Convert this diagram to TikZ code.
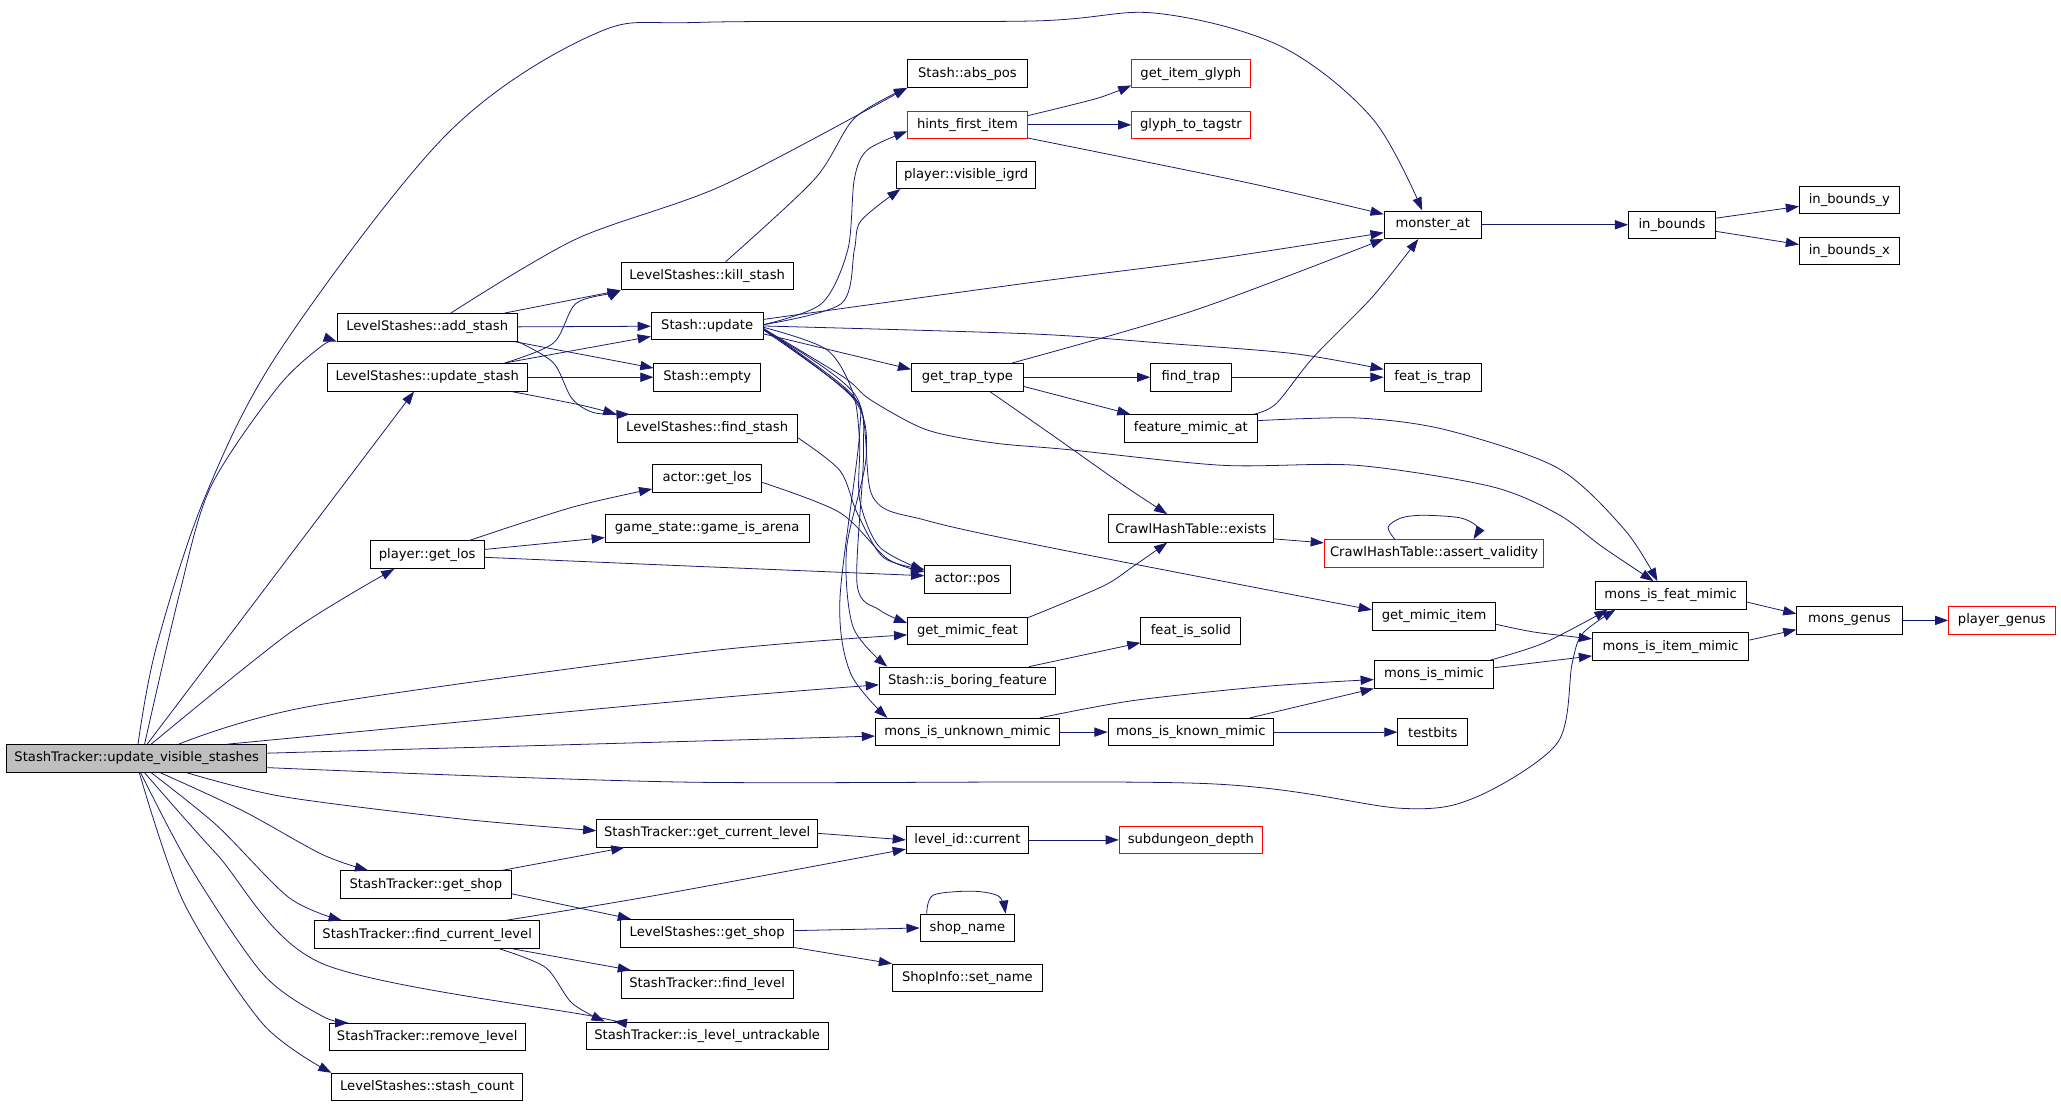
\documentclass[tikz,border=0pt]{standalone}
\usepackage{fontspec}
\setmainfont{DejaVu Sans}
\usepackage{tikz}
\usetikzlibrary{arrows.meta}
\definecolor{edgeblue}{RGB}{25,25,112}
\definecolor{rootgray}{RGB}{191,191,191}
\tikzset{>={Triangle[length=10pt,width=7pt]}}
\tikzset{fn/.style={draw=black,line width=0.7pt,minimum height=21pt,inner xsep=2pt,inner ysep=0pt,font=\fontsize{10}{12}\selectfont},
  fnred/.style={fn,draw=red},
  fnroot/.style={fn,fill=rootgray},
  call/.style={->,draw=edgeblue,line width=0.6pt}}

\begin{document}
\begin{tikzpicture}[x=1pt,y=-1pt]
      \useasboundingbox (0,0) rectangle (1568,841);
      % callers on the left
      \node[fnroot,minimum width=198pt] (usv) at (104,577) {StashTracker::update\_visible\_stashes};
      \node[fn,minimum width=137pt] (addst) at (325,249) {LevelStashes::add\_stash};
      \node[fn,minimum width=152pt] (updst) at (325,287) {LevelStashes::update\_stash};
      \node[fn,minimum width=87pt] (plos) at (325,422) {player::get\_los};
      \node[fn,minimum width=130pt] (gshop) at (324,673) {StashTracker::get\_shop};
      \node[fn,minimum width=171pt] (fcl) at (325,711) {StashTracker::find\_current\_level};
      \node[fn,minimum width=149pt] (rml) at (325,789) {StashTracker::remove\_level};
      \node[fn,minimum width=145pt] (scnt) at (325,827) {LevelStashes::stash\_count};
      % middle columns
      \node[fn,minimum width=131pt] (kill) at (538,210) {LevelStashes::kill\_stash};
      \node[fn,minimum width=85pt] (supd) at (538,248) {Stash::update};
      \node[fn,minimum width=81pt] (sempty) at (538,287) {Stash::empty};
      \node[fn,minimum width=137pt] (fstash) at (538,326) {LevelStashes::find\_stash};
      \node[fn,minimum width=83pt] (alos) at (538,364) {actor::get\_los};
      \node[fn,minimum width=155pt] (arena) at (538,402) {game\_state::game\_is\_arena};
      \node[fn,minimum width=168pt] (gcl) at (538,634) {StashTracker::get\_current\_level};
      \node[fn,minimum width=132pt] (lgshop) at (538,710) {LevelStashes::get\_shop};
      \node[fn,minimum width=131pt] (flevel) at (538,749) {StashTracker::find\_level};
      \node[fn,minimum width=184pt] (untr) at (538,788) {StashTracker::is\_level\_untrackable};
      \node[fn,minimum width=91pt] (abspos) at (736,56) {Stash::abs\_pos};
      \node[fnred,minimum width=91pt] (hfi) at (736,95) {hints\_first\_item};
      \node[fn,minimum width=106pt] (vigrd) at (735,133) {player::visible\_igrd};
      \node[fn,minimum width=85pt] (gtt) at (736,287) {get\_trap\_type};
      \node[fn,minimum width=65pt] (apos) at (736,441) {actor::pos};
      \node[fn,minimum width=91pt] (gmf) at (736,480) {get\_mimic\_feat};
      \node[fn,minimum width=134pt] (bore) at (736,518) {Stash::is\_boring\_feature};
      \node[fn,minimum width=140pt] (unk) at (736,557) {mons\_is\_unknown\_mimic};
      \node[fn,minimum width=93pt] (lcur) at (736,639) {level\_id::current};
      \node[fn,minimum width=72pt] (shopn) at (736,706) {shop\_name};
      \node[fn,minimum width=114pt] (setn) at (736,744) {ShopInfo::set\_name};
      \node[fnred,minimum width=90pt] (glyph) at (906,56) {get\_item\_glyph};
      \node[fnred,minimum width=90pt] (tagstr) at (906,95) {glyph\_to\_tagstr};
      \node[fn,minimum width=61pt] (ftrap) at (906,287) {find\_trap};
      \node[fn,minimum width=101pt] (fma) at (906,326) {feature\_mimic\_at};
      \node[fn,minimum width=126pt] (exists) at (906,402) {CrawlHashTable::exists};
      \node[fn,minimum width=76pt] (solid) at (906,480) {feat\_is\_solid};
      \node[fn,minimum width=126pt] (known) at (906,557) {mons\_is\_known\_mimic};
      \node[fnred,minimum width=109pt] (subd) at (906,639) {subdungeon\_depth};
      % right columns
      \node[fnred,minimum width=167pt] (assertv) at (1091,421) {CrawlHashTable::assert\_validity};
      \node[fn,minimum width=74pt] (monat) at (1090,171) {monster\_at};
      \node[fn,minimum width=74pt] (istrap) at (1090,287) {feat\_is\_trap};
      \node[fn,minimum width=94pt] (gmi) at (1091,469) {get\_mimic\_item};
      \node[fn,minimum width=91pt] (mimic) at (1091,513) {mons\_is\_mimic};
      \node[fn,minimum width=53pt] (testb) at (1090,557) {testbits};
      \node[fn,minimum width=66pt] (inb) at (1272,171) {in\_bounds};
      \node[fn,minimum width=115pt] (featm) at (1271,453) {mons\_is\_feat\_mimic};
      \node[fn,minimum width=119pt] (itemm) at (1271,492) {mons\_is\_item\_mimic};
      \node[fn,minimum width=76pt] (iby) at (1407,152) {in\_bounds\_y};
      \node[fn,minimum width=76pt] (ibx) at (1407,191) {in\_bounds\_x};
      \node[fn,minimum width=80pt] (genus) at (1407,472) {mons\_genus};
      \node[fnred,minimum width=81pt] (pgenus) at (1523,472) {player\_genus};

      % calls of the root
      \draw[call] plot[smooth,tension=0.55] coordinates {([xshift=1pt]usv.north) (119,492) (156,378) (214,265) (340,102) (452,26) (533,17) (784,16) (879,10) (974,35) (1044,90) ([xshift=-8pt]monat.north)};
      \draw[call] plot[smooth] coordinates {([xshift=6pt]usv.north) (136,454) (160,371) (211,295) (245,263) (addst.south west)};
      \draw[call] ([xshift=8pt]usv.north) -- ([xshift=-10pt]updst.south);
      \draw[call] plot[smooth] coordinates {([xshift=11pt]usv.north) (221,481) ([xshift=-25pt]plos.south)};
      \draw[call] plot[smooth] coordinates {([xshift=32pt]usv.north) (238,537) (533,496) ([yshift=-3pt]gmf.west)};
      \draw[call] plot[smooth] coordinates {([xshift=69pt]usv.north) (533,532) ([yshift=-3pt]bore.west)};
      \draw[call] ([yshift=4pt]usv.east) -- ([yshift=-3pt]unk.west);
      \draw[call] plot[smooth,tension=0.5] coordinates {([yshift=-7pt]usv.east) (520,595) (914,596) (1067,615) (1124,606) (1185,565) (1196,505) (1204,482) ([xshift=-42pt]featm.south)};
      \draw[call] plot[smooth] coordinates {([xshift=38pt]usv.south) (215,606) (350,623) ([yshift=2pt]gcl.west)};
      \draw[call] plot[smooth] coordinates {([xshift=18pt]usv.south) (185,617) (245,650) ([xshift=-44pt]gshop.north)};
      \draw[call] plot[smooth] coordinates {([xshift=11pt]usv.south) (165,628) (220,683) ([xshift=-65pt]fcl.north)};
      \draw[call] plot[smooth] coordinates {([xshift=6pt]usv.south) (165,650) (245,733) (450,773) ([xshift=-71pt]untr.north)};
      \draw[call] plot[smooth] coordinates {([xshift=3pt]usv.south) (145,660) (200,741) (245,773) ([xshift=-60pt]rml.north)};
      \draw[call] plot[smooth] coordinates {([xshift=2pt]usv.south) (140,687) (200,779) (scnt.north west)};

      % LevelStashes
      \draw[call] plot[smooth] coordinates {([xshift=18pt]addst.north) (438,182) (550,141) (abspos.south west)};
      \draw[call] plot[smooth] coordinates {([xshift=14pt]kill.north) (620,136) (650,90) (abspos.south west)};
      \draw[call] ([xshift=59pt]addst.north) -- (kill.south west);
      \draw[call] (addst) -- (supd);
      \draw[call] ([xshift=66pt]addst.south) -- ([yshift=7pt]sempty.west);
      \draw[call] plot[smooth] coordinates {([xshift=69pt]addst.south) (421,276) (435,303) (452,314) ([xshift=-59pt]fstash.north)};
      \draw[call] plot[smooth] coordinates {([xshift=59pt]updst.north) (421,261) (438,231) (466,223) (kill.south west)};
      \draw[call] ([xshift=59pt]updst.north) -- ([yshift=-8pt]supd.west);
      \draw[call] (updst) -- (sempty);
      \draw[call] plot[smooth] coordinates {([xshift=64pt]updst.south) (441,308) ([xshift=-69pt]fstash.north)};

      % player::get_los
      \draw[call] plot[smooth] coordinates {([xshift=32pt]plos.north) (435,386) ([yshift=-8pt]alos.west)};
      \draw[call] ([yshift=4pt]plos.east) -- ([yshift=-7pt]arena.west);
      \draw[call] plot[smooth] coordinates {([yshift=-2pt]plos.east) (533,431) ([yshift=3pt]apos.west)};
      \draw[call] plot[smooth] coordinates {([yshift=-3pt]alos.east) (639,390) (675,425) ([yshift=6pt]apos.west)};
      \draw[call] plot[smooth] coordinates {([yshift=-7pt]fstash.east) (639,358) (652,390) (672,424) ([yshift=8pt]apos.west)};

      % Stash::update
      \draw[call] plot[smooth] coordinates {([yshift=-1pt]supd.east) (629,266) (649,299) (654,337) (654,380) (669,416) ([yshift=7pt]apos.west)};
      \draw[call] plot[smooth] coordinates {([yshift=-2pt]supd.east) (649,301) (657,342) (652,444) (669,464) ([yshift=6pt]gmf.west)};
      \draw[call] plot[smooth] coordinates {([yshift=-2pt]supd.east) (649,303) (659,347) (644,418) (649,477) ([xshift=-61pt]bore.north)};
      \draw[call] plot[smooth] coordinates {([yshift=-3pt]supd.east) (647,300) (654,329) (639,456) (647,512) ([xshift=-61pt]unk.north)};
      \draw[call] plot[smooth] coordinates {([yshift=-3pt]supd.east) (651,301) (664,378) (705,396) (806,418) ([yshift=5pt]gmi.west)};
      \draw[call] plot[smooth] coordinates {([yshift=-2pt]supd.east) (642,287) (662,304) (705,327) (756,337) (812,342) (930,354) (1032,354) (1134,370) (1185,391) (1219,416) ([xshift=-13pt]featm.north)};
      \draw[call] plot[smooth] coordinates {([yshift=5pt]supd.east) (784,215) (924,197) ([yshift=-6pt]monat.west)};
      \draw[call] plot[smooth] coordinates {(supd.east) (784,254) (884,261) (984,269) ([yshift=6pt]istrap.west)};
      \draw[call] plot[smooth] coordinates {([yshift=1pt]supd.east) (625,231) (645,190) (650,136) (660,114) ([yshift=-5pt]hfi.west)};
      \draw[call] plot[smooth] coordinates {([yshift=1pt]supd.east) (640,231) (650,190) (655,168) ([xshift=-50pt]vigrd.south)};
      \draw[call] ([yshift=-6pt]supd.east) -- ([yshift=6pt]gtt.west);

      % get_trap_type and friends
      \draw[call] (gtt) -- (ftrap);
      \draw[call] ([yshift=-7pt]gtt.east) -- ([xshift=-46pt]fma.north);
      \draw[call] plot[smooth] coordinates {([xshift=17pt]gtt.south) (802,332) (853,368) ([xshift=-18pt]exists.north)};
      \draw[call] plot[smooth] coordinates {([xshift=34pt]gtt.north) (909,236) (monat.south west)};
      \draw[call] (ftrap) -- (istrap);
      \draw[call] plot[smooth] coordinates {([xshift=48pt]fma.north) (971,307) (999,272) (1044,226) ([xshift=-11pt]monat.south)};
      \draw[call] plot[smooth] coordinates {([yshift=6pt]fma.east) (1033,318) (1100,327) (1185,356) (1236,403) ([xshift=-10pt]featm.north)};
      \draw[call] plot[smooth] coordinates {([yshift=7pt]hfi.east) (834,75) ([yshift=-9pt]glyph.west)};
      \draw[call] (hfi) -- (tagstr);
      \draw[call] plot[smooth] coordinates {([yshift=-10pt]hfi.east) (949,139) ([yshift=8pt]monat.west)};
      \draw[call] plot[smooth] coordinates {([yshift=10pt]gmf.east) (839,446) (862,431) ([xshift=-18pt]exists.south)};
      \draw[call] ([yshift=-8pt]exists.east) -- ([yshift=8pt]assertv.west);
      \draw[call] plot[smooth] coordinates {([xshift=-30pt]assertv.north) (1056,401) (1066,394) (1083,392) (1111,394) (1124,401) ([xshift=30pt]assertv.north)};
      \draw[call] ([xshift=47pt]bore.north) -- ([yshift=-9pt]solid.west);

      % mimic checks
      \draw[call] plot[smooth] coordinates {([xshift=55pt]unk.north) (862,533) (965,522) ([yshift=-4pt]mimic.west)};
      \draw[call] (unk) -- (known);
      \draw[call] plot[smooth] coordinates {([xshift=45pt]known.north) (998,535) (mimic.south west)};
      \draw[call] (known) -- (testb);
      \draw[call] plot[smooth] coordinates {([yshift=-6pt]gmi.east) (1168,481) ([yshift=6pt]itemm.west)};
      \draw[call] plot[smooth] coordinates {([xshift=43pt]mimic.north) (1175,489) ([xshift=-48pt]featm.south)};
      \draw[call] ([yshift=5pt]mimic.east) -- ([yshift=-7pt]itemm.west);
      \draw[call] ([yshift=-5pt]featm.east) -- ([yshift=5pt]genus.west);
      \draw[call] ([yshift=5pt]itemm.east) -- ([yshift=-7pt]genus.west);
      \draw[call] (genus) -- (pgenus);
      \draw[call] (monat) -- (inb);
      \draw[call] ([yshift=5pt]inb.east) -- ([yshift=-5pt]iby.west);
      \draw[call] ([yshift=-5pt]inb.east) -- ([yshift=5pt]ibx.west);

      % levels and shops
      \draw[call] (gcl.east) -- (lcur.west);
      \draw[call] plot[smooth] coordinates {([xshift=60pt]fcl.north) (500,681) ([yshift=-7pt]lcur.west)};
      \draw[call] ([xshift=58pt]gshop.north) -- ([xshift=-63pt]gcl.south);
      \draw[call] ([yshift=-7pt]gshop.east) -- ([xshift=-58pt]lgshop.north);
      \draw[call] ([xshift=65pt]fcl.south) -- ([xshift=-58pt]flevel.north);
      \draw[call] plot[smooth] coordinates {([xshift=55pt]fcl.south) (415,736) (435,763) ([xshift=-78pt]untr.north)};
      \draw[call] ([yshift=2pt]lgshop.east) -- (shopn.west);
      \draw[call] (lgshop.south east) -- (setn.north west);
      \draw[call] plot[smooth] coordinates {([xshift=-31pt]shopn.north) (710,681) (740,678) (760,682) ([xshift=29pt]shopn.north)};
      \draw[call] (lcur) -- (subd);
\end{tikzpicture}
\end{document}
